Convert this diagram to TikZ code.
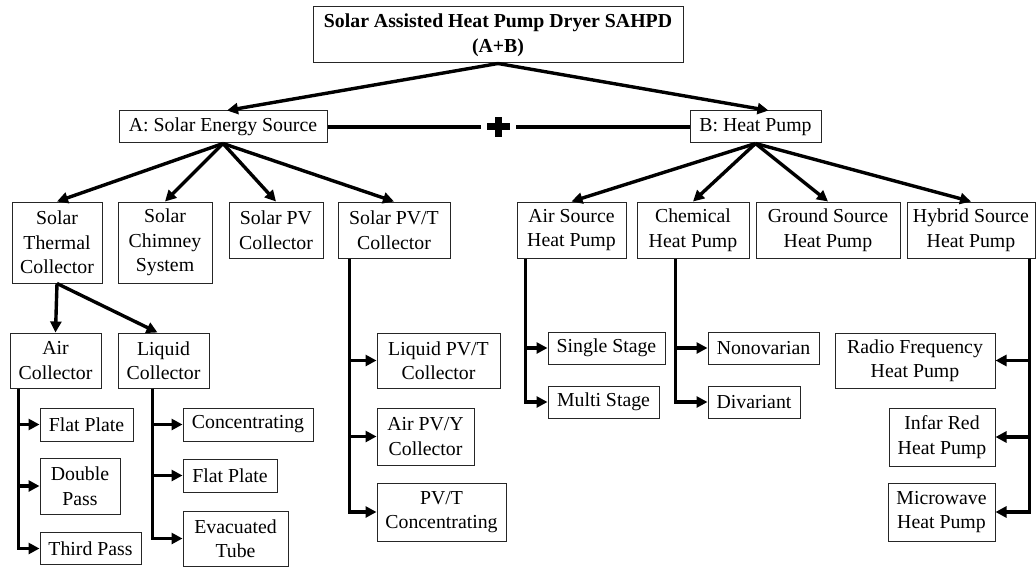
\documentclass[tikz,border=0pt]{standalone}
\usepackage{fontspec}
\setmainfont{Liberation Serif}
\usetikzlibrary{arrows.meta,calc}
\newcommand\mybox[6]{\node[box,minimum width=#4pt,minimum height=#5pt] (#1) at (#2,#3) {#6};}
\begin{document}
\begin{tikzpicture}[x=1pt,y=-1pt,
  box/.style={draw=black!85, line width=1pt, align=center, inner sep=0pt, font={\fontsize{19.8}{24.5}\selectfont}},
  arr/.style={line width=3.4pt, -{Triangle[length=11pt,width=11pt]}},
  link/.style={line width=3.4pt}]
\useasboundingbox (0,0) rectangle (1036,567);
% top
\node[box, minimum width=370pt, minimum height=56pt, font={\fontsize{19.8}{24.5}\selectfont\bfseries}] (top) at (498,35) {Solar Assisted Heat Pump Dryer SAHPD\\(A+B)};
\mybox{A}{223}{127}{208}{32}{A: Solar Energy Source}
\mybox{B}{755.5}{127}{131}{32}{B: Heat Pump}
% row 2
\mybox{ST}{57}{242.5}{90}{81}{Solar\\Thermal\\Collector}
\mybox{SC}{165}{242.5}{94}{81}{Solar\\Chimney\\System}
\mybox{SPV}{276}{230}{94}{56}{Solar PV\\Collector}
\mybox{SPVT}{394}{230}{112}{56}{Solar PV/T\\Collector}
\mybox{ASHP}{571.5}{230}{109}{56}{Air Source\\Heat Pump}
\mybox{CHP}{693}{230}{112}{56}{Chemical\\Heat Pump}
\mybox{GSHP}{828}{230}{144}{56}{Ground Source\\Heat Pump}
\mybox{HSHP}{971}{230}{128}{56}{Hybrid Source\\Heat Pump}
% row 3
\mybox{AC}{55.5}{360.5}{91}{55}{Air\\Collector}
\mybox{LC}{163.5}{360.5}{91}{55}{Liquid\\Collector}
\mybox{FPa}{86.5}{424.5}{93}{33}{Flat Plate}
\mybox{DP}{80}{486}{80}{56}{Double\\Pass}
\mybox{TP}{90.5}{548.5}{101}{32}{Third Pass}
\mybox{Conc}{248}{424.5}{130}{33}{Concentrating}
\mybox{FPb}{230}{475.5}{94}{33}{Flat Plate}
\mybox{ET}{235.5}{538.5}{105}{55}{Evacuated\\Tube}
\mybox{LPVT}{438.5}{360.5}{123}{55}{Liquid PV/T\\Collector}
\mybox{APVY}{425.5}{436.5}{97}{57}{Air PV/Y\\Collector}
\mybox{PVTC}{441.5}{512}{129}{58}{PV/T\\Concentrating}
\mybox{SS}{606.5}{348}{117}{32}{Single Stage}
\mybox{MS}{603.5}{402}{111}{32}{Multi Stage}
\mybox{NV}{763.5}{348}{111}{32}{Nonovarian}
\mybox{DV}{754}{402}{92}{32}{Divariant}
\mybox{RF}{915}{360.5}{160}{55}{Radio Frequency\\Heat Pump}
\mybox{IR}{942}{437}{106}{58}{Infar Red\\Heat Pump}
\mybox{MW}{941.5}{512}{107}{58}{Microwave\\Heat Pump}
% top connectors
\draw[arr] (top.south) -- ($(A.north)+(4,0)$);
\draw[arr] (top.south) -- ($(B.north)+(13,0)$);
% plus link
\coordinate (pc) at (498,127);
\coordinate (pl) at (481,127);
\coordinate (pr) at (516,127);
\draw[link] (A.east) -- (pl);
\draw[link] (pr) -- (B.west);
\fill (pc) +(-11.5,-3.5) rectangle +(11.5,3.5);
\fill (pc) +(-3.5,-10) rectangle +(3.5,10);
% A and B children
\foreach \n in {ST,SC,SPV,SPVT} \draw[arr] (A.south) -- (\n.north);
\foreach \n in {ASHP,CHP,GSHP,HSHP} \draw[arr] (B.south) -- (\n.north);
% solar thermal
\draw[arr] (ST.south) -- (AC.north);
\draw[arr] (ST.south) -- ($(LC.north)+(-6,0)$);
% trunks
\coordinate (acT) at ($(AC.south west)+(9,0)$);
\foreach \n in {FPa,DP,TP} \draw[arr] (acT) |- (\n.west);
\coordinate (lcT) at ($(LC.south west)+(35,0)$);
\foreach \n in {Conc,FPb,ET} \draw[arr] (lcT) |- (\n.west);
\coordinate (pvT) at ($(SPVT.south west)+(12,0)$);
\foreach \n in {LPVT,APVY,PVTC} \draw[arr] (pvT) |- (\n.west);
\coordinate (asT) at ($(ASHP.south west)+(9,0)$);
\foreach \n in {SS,MS} \draw[arr] (asT) |- (\n.west);
\coordinate (chT) at ($(CHP.south west)+(39,0)$);
\foreach \n in {NV,DV} \draw[arr] (chT) |- (\n.west);
\coordinate (hyT) at ($(HSHP.south east)+(-6,0)$);
\foreach \n in {RF,IR,MW} \draw[arr] (hyT) |- (\n.east);
\end{tikzpicture}
\end{document}
